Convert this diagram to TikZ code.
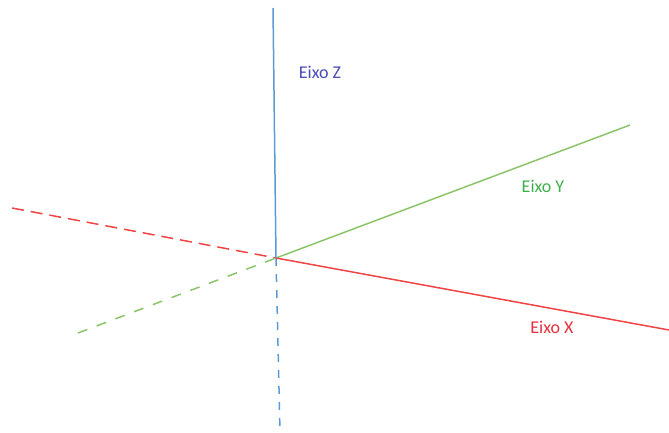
\documentclass[tikz,border=0pt]{standalone}
\usepackage{fontspec}
\setmainfont{Carlito}
\definecolor{zcol}{HTML}{5B9BD5}
\definecolor{ycol}{HTML}{8CC46A}
\definecolor{xcol}{HTML}{EE4444}
\definecolor{zlab}{HTML}{4A4AB8}
\definecolor{ylab}{HTML}{3DB04E}
\definecolor{xlab}{HTML}{E8303C}
\begin{document}
\begin{tikzpicture}[x=1pt,y=-1pt,
  axis/.style={line width=1.5pt},
  lab/.style={font=\fontsize{18}{21}\selectfont, inner sep=0pt}]
\useasboundingbox (0,0) rectangle (669,433);
\coordinate (O) at (276,258);
\coordinate (ztop) at (273,8);
\coordinate (zbot) at (280,432);
\coordinate (yend) at (630,125);
\coordinate (yneg) at (78,333);
\coordinate (xend) at (669,330);
\coordinate (xneg) at (12,208);
\draw[axis, xcol, dash pattern=on 12pt off 7pt] (xneg) -- (O);
\draw[axis, ycol, dash pattern=on 10pt off 10pt] (yneg) -- (O);
\draw[axis, zcol, dash pattern=on 8pt off 8pt] (O) -- (zbot);
\draw[axis, ycol] (O) -- (yend);
\draw[axis, xcol] (O) -- (xend);
\draw[axis, zcol] (ztop) -- (O);
\node[lab, text=zlab] (lz) at (320,72) {Eixo Z};
\node[lab, text=ylab] (ly) at (543,186) {Eixo Y};
\node[lab, text=xlab] (lx) at (552,327) {Eixo X};
\end{tikzpicture}
\end{document}
